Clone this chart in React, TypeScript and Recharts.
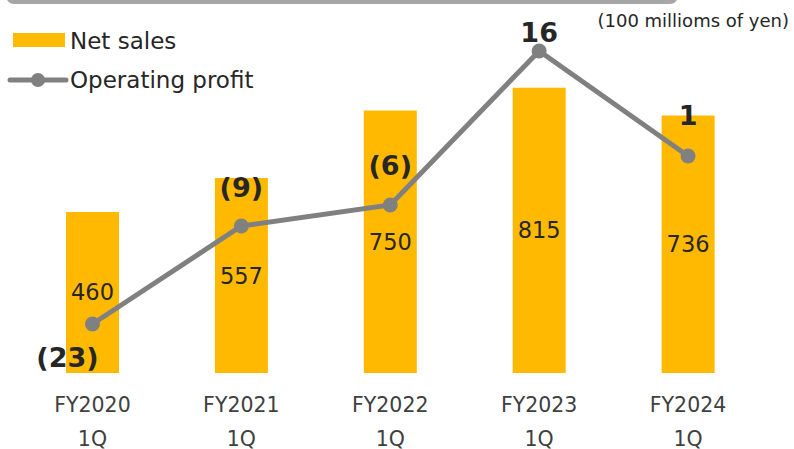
import React from "react";
import {
  ComposedChart,
  Bar,
  Line,
  XAxis,
  YAxis,
  LabelList,
} from "recharts";

const years = ["FY2020", "FY2021", "FY2022", "FY2023", "FY2024"];
const quarters = ["1Q", "1Q", "1Q", "1Q", "1Q"];
const netSales = [460, 557, 750, 815, 736];
const operatingProfit = [-23, -9, -6, 16, 1];

// where each profit label sits relative to its point (styling only)
const profitLabelOffsets = [
  { dx: -25, dy: 43 },
  { dx: 0, dy: -29 },
  { dx: 0, dy: -30 },
  { dx: 0, dy: -9 },
  { dx: 0, dy: -31 },
];

const data = years.map((y, i) => ({
  name: y,
  quarter: quarters[i],
  sales: netSales[i],
  profit: operatingProfit[i],
}));

const FONT = "'DejaVu Sans', Verdana, sans-serif";
const ORANGE = "#FFB900";
const GRAY = "#808080";
const TEXT = "#262626";

const fmtProfit = (v: number) => (v < 0 ? `(${Math.abs(v)})` : `${v}`);

function XTick({ x, payload, index }: any) {
  // fixed rows under the plot (plot bottom is at y = 373)
  return (
    <g transform={`translate(${x},373)`}>
      <text x={0} y={39} textAnchor="middle" fontSize={20.5} fill="#404040" fontFamily={FONT}>
        {payload.value}
      </text>
      <text x={0} y={73} textAnchor="middle" fontSize={20.5} fill="#404040" fontFamily={FONT}>
        {quarters[index]}
      </text>
    </g>
  );
}

function ProfitLabel({ x, y, value, index }: any) {
  const off = profitLabelOffsets[index] || { dx: 0, dy: -30 };
  return (
    <text
      x={x + off.dx}
      y={y + off.dy}
      textAnchor="middle"
      fontSize={27}
      fontWeight="bold"
      fill={TEXT}
      fontFamily={FONT}
    >
      {fmtProfit(value)}
    </text>
  );
}

export default function App() {
  return (
    <div style={{ position: "absolute", left: 0, top: 0, width: 794, height: 449, background: "#fff" }}>
      <ComposedChart
        width={794}
        height={449}
        data={data}
        margin={{ top: 23, right: 31.5, left: 18, bottom: 0 }}
      >
        <XAxis
          dataKey="name"
          height={76}
          axisLine={false}
          tickLine={false}
          interval={0}
          tick={<XTick />}
        />
        <YAxis yAxisId="sales" hide domain={[0, 1000]} />
        <YAxis yAxisId="profit" hide domain={[-30, 20]} orientation="right" />
        <Bar
          yAxisId="sales"
          dataKey="sales"
          fill={ORANGE}
          barSize={53}
          isAnimationActive={false}
        >
          <LabelList
            dataKey="sales"
            position="center"
            fontSize={22.5}
            fill={TEXT}
            fontFamily={FONT}
          />
        </Bar>
        <Line
          yAxisId="profit"
          dataKey="profit"
          stroke={GRAY}
          strokeWidth={5}
          dot={{ r: 7.5, fill: GRAY, stroke: "none" }}
          activeDot={false}
          isAnimationActive={false}
        >
          <LabelList dataKey="profit" content={<ProfitLabel />} />
        </Line>
      </ComposedChart>
      <svg
        width={794}
        height={449}
        style={{ position: "absolute", left: 0, top: 0, pointerEvents: "none" }}
      >
        <rect x={6} y={-12} width={672} height={16} rx={8} fill="#A6A6A6" />
        <rect x={13} y={33} width={52} height={14} fill={ORANGE} />
        <text x={70} y={49} fontSize={23} fill={TEXT} fontFamily={FONT}>
          Net sales
        </text>
        <line x1={10} y1={80} x2={66} y2={80} stroke={GRAY} strokeWidth={5} strokeLinecap="round" />
        <circle cx={38} cy={80} r={7} fill={GRAY} />
        <text x={70} y={88} fontSize={23} fill={TEXT} fontFamily={FONT}>
          Operating profit
        </text>
        <text x={789} y={27} textAnchor="end" fontSize={18} fill={TEXT} fontFamily={FONT}>
          (100 millioms of yen)
        </text>
      </svg>
    </div>
  );
}
